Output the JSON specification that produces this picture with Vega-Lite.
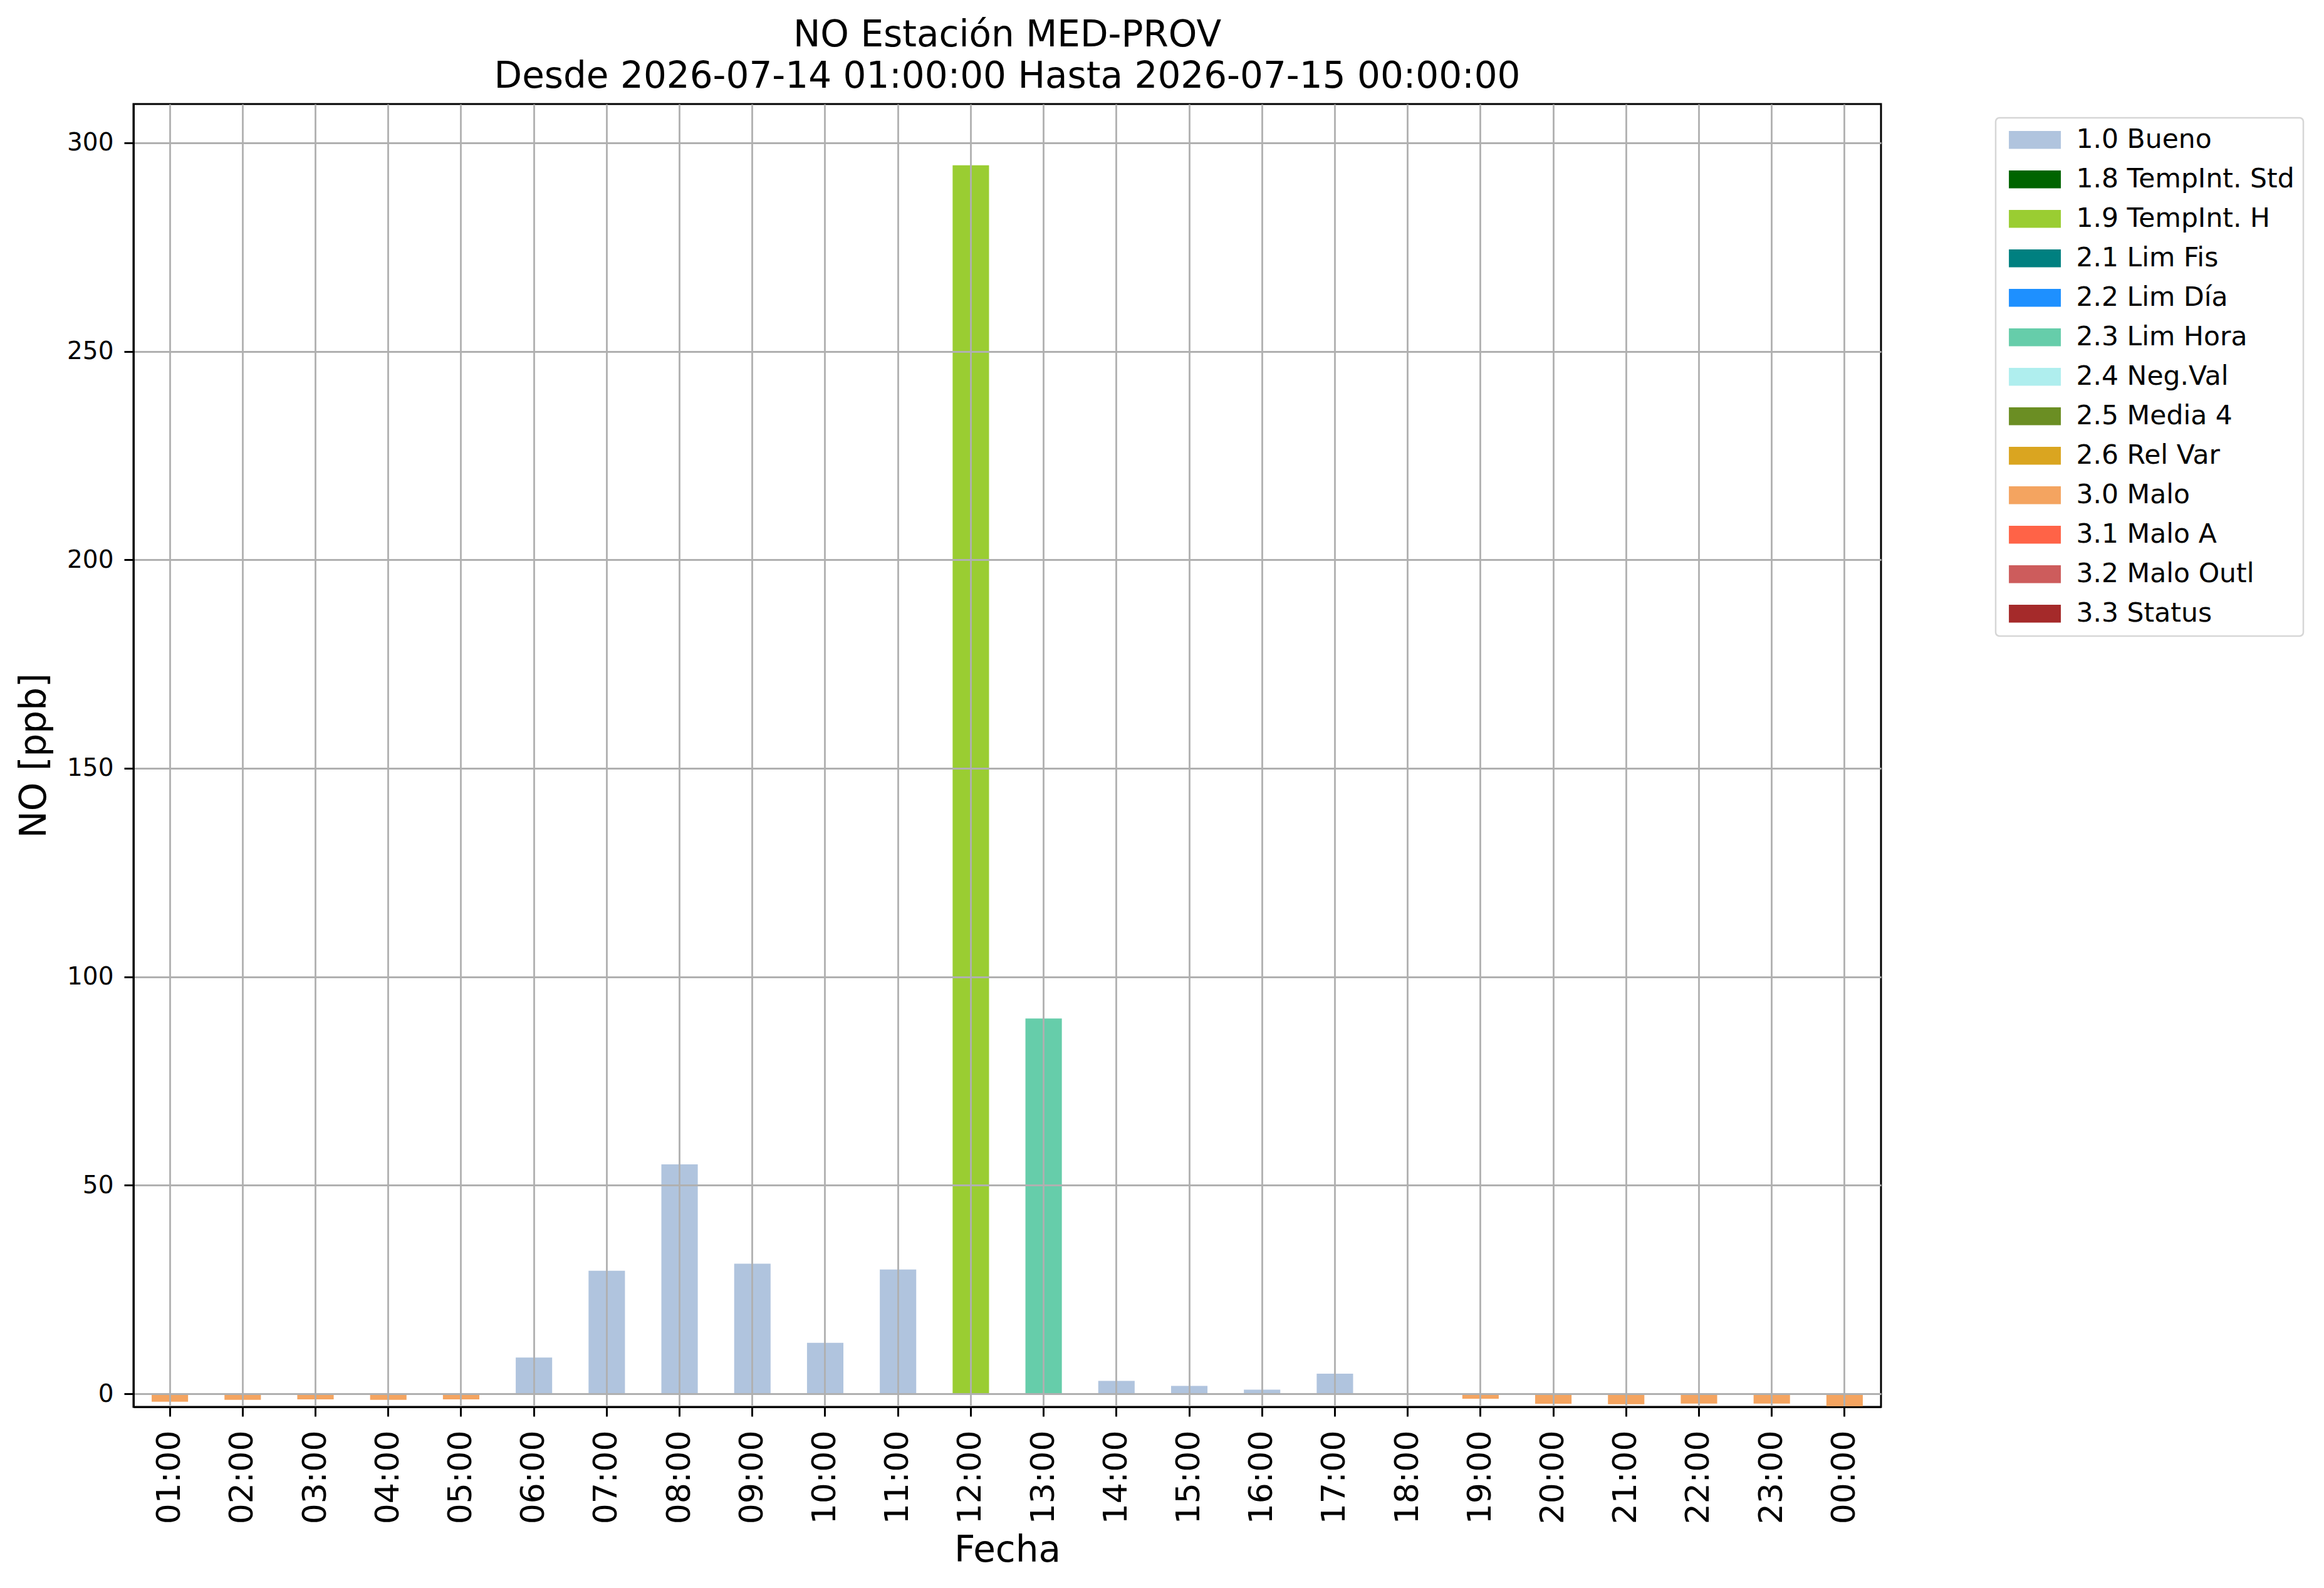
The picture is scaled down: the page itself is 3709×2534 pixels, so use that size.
{
  "$schema": "https://vega.github.io/schema/vega-lite/v6.json",
  "autosize": {"type": "none"},
  "padding": {"left": 213, "top": 166, "right": 707, "bottom": 289},
  "width": 2789,
  "height": 2079,
  "background": "white",
  "title": {
    "text": ["NO Estación MED-PROV", "Desde 2026-07-14 01:00:00 Hasta 2026-07-15 00:00:00"],
    "font": "DejaVu Sans",
    "fontSize": 58,
    "fontWeight": "normal",
    "color": "black",
    "lineHeight": 66,
    "anchor": "middle",
    "frame": "group",
    "offset": 14
  },
  "data": {
    "values": [
      {"hora": "01:00", "valor": -1.9, "flag": "3.0 Malo"},
      {"hora": "02:00", "valor": -1.45, "flag": "3.0 Malo"},
      {"hora": "03:00", "valor": -1.35, "flag": "3.0 Malo"},
      {"hora": "04:00", "valor": -1.45, "flag": "3.0 Malo"},
      {"hora": "05:00", "valor": -1.35, "flag": "3.0 Malo"},
      {"hora": "06:00", "valor": 8.7, "flag": "1.0 Bueno"},
      {"hora": "07:00", "valor": 29.5, "flag": "1.0 Bueno"},
      {"hora": "08:00", "valor": 55.0, "flag": "1.0 Bueno"},
      {"hora": "09:00", "valor": 31.2, "flag": "1.0 Bueno"},
      {"hora": "10:00", "valor": 12.2, "flag": "1.0 Bueno"},
      {"hora": "11:00", "valor": 29.8, "flag": "1.0 Bueno"},
      {"hora": "12:00", "valor": 294.6, "flag": "1.9 TempInt. H"},
      {"hora": "13:00", "valor": 90.0, "flag": "2.3 Lim Hora"},
      {"hora": "14:00", "valor": 3.1, "flag": "1.0 Bueno"},
      {"hora": "15:00", "valor": 1.9, "flag": "1.0 Bueno"},
      {"hora": "16:00", "valor": 1.0, "flag": "1.0 Bueno"},
      {"hora": "17:00", "valor": 4.8, "flag": "1.0 Bueno"},
      {"hora": "19:00", "valor": -1.2, "flag": "3.0 Malo"},
      {"hora": "20:00", "valor": -2.4, "flag": "3.0 Malo"},
      {"hora": "21:00", "valor": -2.5, "flag": "3.0 Malo"},
      {"hora": "22:00", "valor": -2.35, "flag": "3.0 Malo"},
      {"hora": "23:00", "valor": -2.35, "flag": "3.0 Malo"},
      {"hora": "00:00", "valor": -3.0, "flag": "3.0 Malo"}
    ]
  },
  "mark": {"type": "bar", "clip": true},
  "encoding": {
    "x": {
      "field": "hora",
      "type": "nominal",
      "title": "Fecha",
      "scale": {
        "domain": ["01:00", "02:00", "03:00", "04:00", "05:00", "06:00", "07:00", "08:00", "09:00", "10:00", "11:00", "12:00", "13:00", "14:00", "15:00", "16:00", "17:00", "18:00", "19:00", "20:00", "21:00", "22:00", "23:00", "00:00"],
        "paddingInner": 0.5,
        "paddingOuter": 0.25
      },
      "axis": {
        "bandPosition": 0.5,
        "labelAngle": -90,
        "labelFontSize": 52,
        "labelPadding": 22,
        "titleFontSize": 58,
        "titlePadding": 14,
        "zindex": 1
      }
    },
    "y": {
      "field": "valor",
      "type": "quantitative",
      "title": "NO [ppb]",
      "scale": {"domain": [-3.15, 309.3], "nice": false, "zero": false},
      "axis": {
        "values": [0, 50, 100, 150, 200, 250, 300],
        "labelFontSize": 39,
        "labelPadding": 17,
        "titleFontSize": 58,
        "titlePadding": 22,
        "zindex": 1
      }
    },
    "color": {
      "field": "flag",
      "type": "nominal",
      "title": null,
      "scale": {
        "domain": ["1.0 Bueno", "1.8 TempInt. Std", "1.9 TempInt. H", "2.1 Lim Fis", "2.2 Lim Día", "2.3 Lim Hora", "2.4 Neg.Val", "2.5 Media 4", "2.6 Rel Var", "3.0 Malo", "3.1 Malo A", "3.2 Malo Outl", "3.3 Status"],
        "range": ["#B0C4DE", "#006400", "#9ACD32", "#008080", "#1E90FF", "#66CDAA", "#AFEEEE", "#6B8E23", "#DAA520", "#F4A460", "#FF6347", "#CD5C5C", "#A52A2A"]
      },
      "legend": {
        "orient": "none",
        "legendX": 2972,
        "legendY": 22,
        "direction": "vertical",
        "symbolType": "M-1,-1H4.86V1H-1Z",
        "symbolSize": 801,
        "symbolStrokeWidth": 0,
        "symbolOpacity": 1,
        "labelFont": "DejaVu Sans",
        "labelFontSize": 42.5,
        "labelColor": "black",
        "labelOffset": 72,
        "labelLimit": 600,
        "rowPadding": 20,
        "padding": 14,
        "fillColor": "white",
        "strokeColor": "#d6d6d6",
        "cornerRadius": 6,
        "encode": {
          "legend": {"update": {"strokeWidth": {"value": 2.5}}}
        }
      }
    }
  },
  "config": {
    "font": "DejaVu Sans",
    "view": {"stroke": "black", "strokeWidth": 3},
    "axis": {
      "labelFont": "DejaVu Sans",
      "titleFont": "DejaVu Sans",
      "labelColor": "black",
      "titleColor": "black",
      "titleFontWeight": "normal",
      "domainColor": "black",
      "domainWidth": 3,
      "tickColor": "black",
      "tickWidth": 3,
      "tickSize": 15,
      "grid": true,
      "gridColor": "#b0b0b0",
      "gridWidth": 2.8
    }
  }
}
